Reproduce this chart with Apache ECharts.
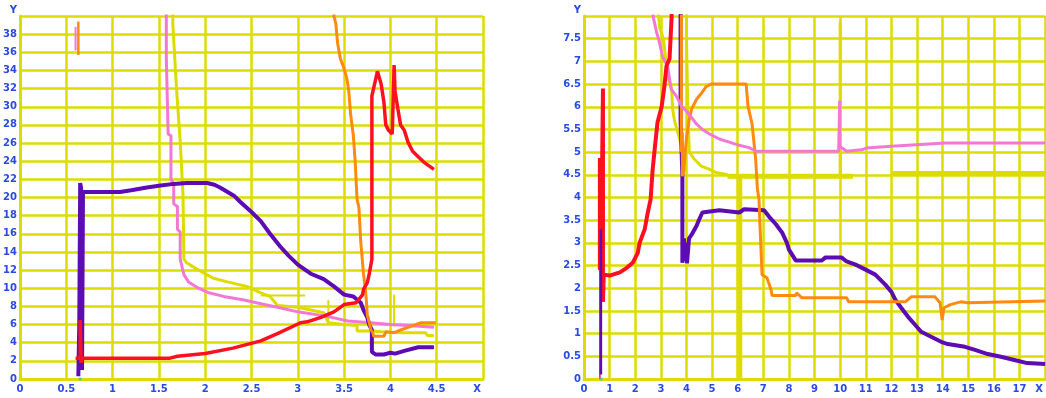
<!DOCTYPE html>
<html>
<head>
<meta charset="utf-8">
<script src="https://cdn.jsdelivr.net/npm/echarts@6/dist/echarts.min.js"></script>
<style>
html,body{margin:0;padding:0;background:#fff;}
#chart{width:1046px;height:398px;}
</style>
</head>
<body>
<div id="chart"></div>
<script>
// ---------- axis ranges ----------
const leftX = {min: 0, max: 5, step: 0.5};
const leftY = {min: 0, max: 40, step: 2};
const rightX = {min: 0, max: 18, step: 1};
const rightY = {min: 0, max: 8, step: 0.5};
const axisNames = ['X', 'Y'];

// ---------- left panel series ----------
const leftPurple = [[0.63,0.3],[0.64,6],[0.65,21.6],[0.66,21.0],[0.67,1.0],[0.68,20.6],[0.7,20.7],[0.9,20.6],[1.08,20.6],[1.2,20.8],[1.37,21.1],[1.5,21.3],[1.66,21.5],[1.8,21.6],[2.02,21.6],[2.1,21.4],[2.16,21.1],[2.31,20.2],[2.38,19.5],[2.5,18.4],[2.6,17.4],[2.7,16.0],[2.81,14.6],[2.9,13.6],[3.0,12.6],[3.14,11.6],[3.28,11.0],[3.39,10.2],[3.5,9.3],[3.6,9.1],[3.68,8.4],[3.71,7.6],[3.75,6.8],[3.77,6.0],[3.8,5.4],[3.8,3.0],[3.84,2.7],[3.93,2.7],[4.0,2.9],[4.05,2.8],[4.15,3.1],[4.3,3.5],[4.47,3.5]];
const leftRed = [[0.6,2.3],[0.65,2.3],[0.65,6.5],[0.66,1.8],[0.67,2.3],[1.0,2.3],[1.62,2.3],[1.7,2.5],[2.0,2.8],[2.3,3.4],[2.6,4.2],[2.78,5.0],[3.03,6.2],[3.1,6.3],[3.25,6.8],[3.39,7.4],[3.5,8.2],[3.63,8.4],[3.7,9.3],[3.71,9.9],[3.75,10.6],[3.77,11.5],[3.8,13.2],[3.8,31.2],[3.82,31.2],[3.86,33.9],[3.9,32.5],[3.93,30.5],[3.95,28.0],[3.98,27.4],[4.02,27.0],[4.04,34.6],[4.05,31.7],[4.08,29.8],[4.11,28.0],[4.15,27.4],[4.19,26.1],[4.24,25.1],[4.3,24.5],[4.36,23.9],[4.47,23.1]];
const leftPink = [[1.58,41],[1.58,35.4],[1.6,35.2],[1.6,27.0],[1.63,26.8],[1.63,22.0],[1.66,21.5],[1.66,19.3],[1.7,19.0],[1.7,16.5],[1.73,16.2],[1.73,13.2],[1.77,11.5],[1.82,10.7],[1.91,10.1],[2.04,9.5],[2.2,9.1],[2.42,8.7],[2.6,8.3],[2.78,7.9],[3.0,7.4],[3.32,6.9],[3.54,6.4],[3.79,6.2],[4.0,6.0],[4.19,5.9],[4.47,5.7]];
const leftPinkShort = [[0.6,38.8],[0.6,36.2]];
const leftOrangeShort = [[0.63,39.4],[0.63,35.7]];
const leftOrange = [[3.39,41],[3.39,40.0],[3.41,39.2],[3.43,37.0],[3.46,35.3],[3.5,34.2],[3.53,33.1],[3.55,31.8],[3.57,29.2],[3.6,26.8],[3.62,23.9],[3.64,19.8],[3.66,18.9],[3.68,15.1],[3.71,11.5],[3.73,9.9],[3.74,8.7],[3.75,7.1],[3.79,5.4],[3.81,5.1],[3.82,4.7],[3.93,4.7],[3.95,5.2],[4.04,5.1],[4.11,5.4],[4.22,5.8],[4.33,6.2],[4.49,6.2]];
const leftYellow = [[1.65,41],[1.65,39.2],[1.69,32.0],[1.73,26.2],[1.76,20.4],[1.77,13.2],[1.8,12.8],[1.88,12.3],[1.98,11.7],[2.09,11.1],[2.24,10.7],[2.45,10.2],[2.6,9.5],[2.7,9.1],[2.78,8.1],[3.0,7.9],[3.28,7.3],[3.33,6.2],[3.5,6.0],[3.64,5.9],[3.64,5.3],[3.79,5.3],[3.9,5.2],[4.11,5.1],[4.38,5.1],[4.4,4.8],[4.47,4.8]];
const leftYellowStub = [[2.6,9.2],[3.08,9.2]];
const leftYellowSpikeA = [[3.33,8.7],[3.33,6.0]];
const leftYellowSpikeB = [[4.04,9.3],[4.04,5.8]];
const leftCyan = [[0.65,0]];

// ---------- right panel series ----------
const rightRedStem = [[0.62,0],[0.62,2.4]];
const rightRed = [[0.62,2.4],[0.62,4.87],[0.66,2.4],[0.74,6.4],[0.74,1.7],[0.77,2.3],[1.0,2.28],[1.4,2.35],[1.67,2.45],[1.9,2.56],[2.1,2.78],[2.17,3.0],[2.37,3.3],[2.49,3.67],[2.6,3.96],[2.68,4.62],[2.76,5.07],[2.87,5.66],[3.03,6.0],[3.14,6.46],[3.22,6.9],[3.34,7.06],[3.42,7.98],[3.43,8.6]];
const rightPurpleStart = [[0.66,0.1],[0.66,1.3],[0.66,3.3]];
const rightPurple = [[3.77,8.6],[3.77,8.0],[3.77,5.7],[3.84,4.5],[3.84,2.56],[3.9,3.1],[3.95,2.6],[4.0,3.0],[4.02,2.55],[4.1,3.1],[4.2,3.18],[4.39,3.37],[4.5,3.52],[4.62,3.67],[5.28,3.72],[6.06,3.67],[6.25,3.74],[7.03,3.72],[7.22,3.58],[7.49,3.41],[7.73,3.23],[7.92,3.0],[8.0,2.85],[8.27,2.61],[9.28,2.61],[9.43,2.68],[10.05,2.68],[10.25,2.59],[10.6,2.52],[10.99,2.41],[11.37,2.3],[11.76,2.08],[12.0,1.92],[12.15,1.75],[12.38,1.57],[12.65,1.37],[12.93,1.19],[13.16,1.04],[13.55,0.93],[13.94,0.82],[14.2,0.77],[14.87,0.71],[15.26,0.64],[15.76,0.55],[16.27,0.49],[16.8,0.42],[17.3,0.35],[18,0.33]];
const rightOrange = [[3.8,8.6],[3.8,8.0],[3.8,5.0],[3.84,5.44],[3.84,4.47],[3.9,4.6],[3.95,5.0],[4.0,5.3],[4.1,5.7],[4.2,5.95],[4.4,6.17],[4.56,6.28],[4.76,6.44],[4.96,6.5],[6.33,6.5],[6.4,6.02],[6.56,5.62],[6.7,4.85],[6.77,4.18],[6.83,3.96],[6.87,3.37],[6.95,2.3],[7.14,2.23],[7.3,1.97],[7.34,1.84],[8.27,1.84],[8.3,1.9],[8.5,1.79],[10.25,1.79],[10.33,1.7],[12.54,1.7],[12.77,1.81],[13.7,1.81],[13.9,1.68],[13.98,1.3],[14.05,1.57],[14.3,1.64],[14.7,1.7],[14.98,1.68],[18,1.72]];
const rightPink = [[2.65,8.3],[2.7,7.98],[2.83,7.65],[2.93,7.45],[3.07,7.1],[3.26,6.9],[3.3,6.76],[3.4,6.39],[3.6,6.24],[3.8,6.02],[4.0,5.9],[4.19,5.77],[4.39,5.62],[4.62,5.5],[4.9,5.4],[5.28,5.29],[5.67,5.22],[6.06,5.15],[6.44,5.1],[6.72,5.02],[9.94,5.02],[9.98,6.13],[9.98,5.13],[10.13,5.07],[10.25,5.02],[10.83,5.05],[11.02,5.09],[12.0,5.13],[14.1,5.2],[18,5.2]];
const rightYellowA = [[2.87,8.3],[2.95,7.75],[3.1,7.5],[3.2,7.0],[3.3,6.6],[3.42,6.4],[3.46,5.95],[3.53,5.7],[3.6,5.73],[3.73,5.29],[3.84,5.07],[3.9,4.8]];
const rightYellowB = [[4.0,8.3],[4.0,7.5],[4.05,6.0],[4.08,5.5],[4.11,5.0],[4.3,4.85],[4.58,4.69],[4.9,4.62],[5.16,4.55],[5.6,4.5]];
const rightYellowThickA = [[5.6,4.47],[10.5,4.47]];
const rightYellowThickB = [[12.0,4.53],[18,4.53]];
const rightYellowV1 = [[6.1,4.47],[6.1,0]];
const rightYellowV2 = [[10.0,7.88],[10.0,4.47]];
const rightCyan = [[0.66,0]];

// ---------- colours ----------
const YEL = '#dcdc00', PUR = '#5c0cb2', RED = '#ff1020', PINK = '#f278d4', ORA = '#ff8a12', CYAN = '#30c8c8', LBL = '#2a4ae0';

function line(idx, data, color, width, z) {
  return {type: 'line', xAxisIndex: idx, yAxisIndex: idx, data: data, showSymbol: false, symbol: 'none',
    lineStyle: {color: color, width: width}, z: z, animation: false, silent: true};
}
function dot(idx, data) {
  return {type: 'scatter', xAxisIndex: idx, yAxisIndex: idx, data: data, symbol: 'rect', symbolSize: 3,
    itemStyle: {color: CYAN}, z: 10, animation: false, silent: true};
}
const labelStyle = {color: LBL, fontFamily: 'DejaVu Sans', fontWeight: 'bold', fontSize: 10};
function xAx(idx, r) {
  return {type: 'value', gridIndex: idx, min: r.min, max: r.max, interval: r.step,
    axisLine: {show: true, lineStyle: {color: YEL, width: 3}}, axisTick: {show: false},
    splitLine: {show: true, lineStyle: {color: YEL, width: 2.5}},
    axisLabel: Object.assign({margin: 5, showMaxLabel: true,
      formatter: v => (Math.abs(v - r.max) < 1e-9 ? '{n|' + axisNames[0] + '}' : String(v)),
      rich: {n: Object.assign({padding: [0, 12, 0, 0]}, labelStyle)}}, labelStyle)};
}
function yAx(idx, r) {
  return {type: 'value', gridIndex: idx, min: r.min, max: r.max, interval: r.step,
    axisLine: {show: true, lineStyle: {color: YEL, width: 3}}, axisTick: {show: false},
    splitLine: {show: true, lineStyle: {color: YEL, width: 2.5}},
    axisLabel: Object.assign({margin: 3, showMaxLabel: true,
      formatter: v => (Math.abs(v - r.max) < 1e-9 ? '{n|' + axisNames[1] + '}' : String(v)),
      rich: {n: Object.assign({padding: [0, 0, 12, 0]}, labelStyle)}}, labelStyle)};
}

const chart = echarts.init(document.getElementById('chart'), null, {renderer: 'canvas'});
chart.setOption({
  backgroundColor: '#ffffff',
  animation: false,
  grid: [
    {left: 20, top: 16, width: 463, height: 363},
    {left: 584, top: 16, width: 462, height: 363}
  ],
  xAxis: [xAx(0, leftX), xAx(1, rightX)],
  yAxis: [yAx(0, leftY), yAx(1, rightY)],
  series: [
    line(0, leftYellow, YEL, 3, 2),
    line(0, leftYellowStub, YEL, 2, 2),
    line(0, leftYellowSpikeA, YEL, 2, 2),
    line(0, leftYellowSpikeB, YEL, 2, 2),
    line(0, leftPink, PINK, 3, 3),
    line(0, leftPinkShort, PINK, 2, 3),
    line(0, leftPurple, PUR, 4, 4),
    line(0, leftOrange, ORA, 3, 5),
    line(0, leftOrangeShort, ORA, 2.5, 5),
    line(0, leftRed, RED, 3.5, 6),
    dot(0, leftCyan),
    line(1, rightYellowA, YEL, 3, 2),
    line(1, rightYellowB, YEL, 3, 2),
    line(1, rightYellowThickA, YEL, 5, 2),
    line(1, rightYellowThickB, YEL, 5, 2),
    line(1, rightYellowV1, YEL, 4, 2),
    line(1, rightYellowV2, YEL, 3, 2),
    line(1, rightPurple, PUR, 4, 3),
    line(1, rightOrange, ORA, 3, 4),
    line(1, rightPink, PINK, 3, 5),
    line(1, rightRedStem, RED, 1.5, 6),
    line(1, rightRed, RED, 4, 6),
    line(1, rightPurpleStart, PUR, 2.5, 7),
    dot(1, rightCyan)
  ]
});
</script>
</body>
</html>
